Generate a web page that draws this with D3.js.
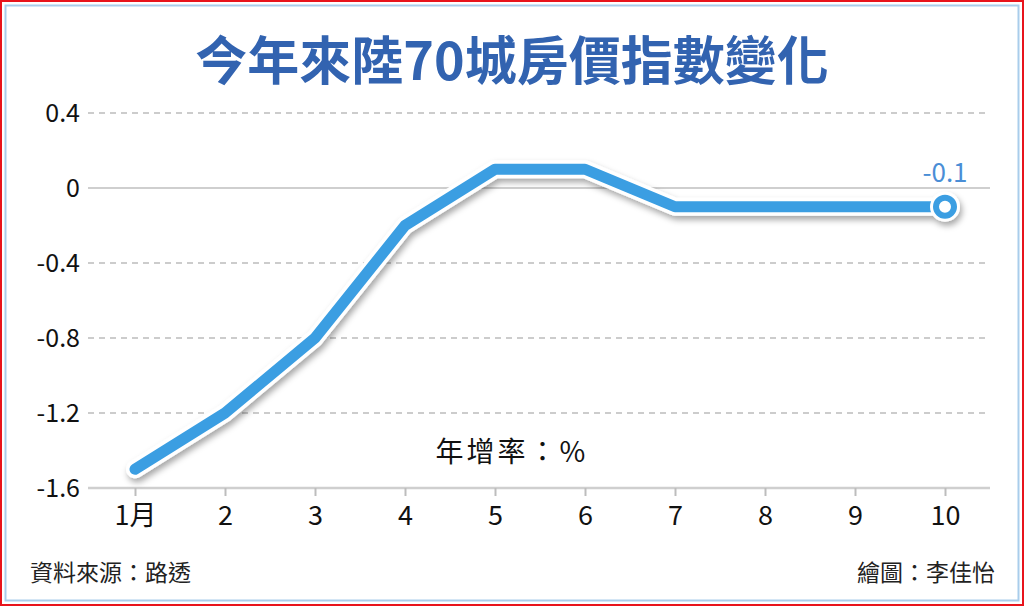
<!DOCTYPE html>
<html>
<head>
<meta charset="utf-8">
<style>
  body { margin: 0; background: #fff; }
  svg text { font-family: "Noto Sans CJK TC", "Noto Sans", sans-serif; }
</style>
</head>
<body>
<div id="chart"></div>
<script src="https://cdn.jsdelivr.net/npm/d3@7/dist/d3.min.js"></script>
<script>
var w = 1024;
var h = 606;

var months = ["1月", "2", "3", "4", "5", "6", "7", "8", "9", "10"];
var values = [-1.5, -1.2, -0.8, -0.2, 0.1, 0.1, -0.1, -0.1, -0.1, -0.1];
var yTicks = [0.4, 0, -0.4, -0.8, -1.2, -1.6];

var svg = d3.select("#chart").append("svg").attr("width", w).attr("height", h);

// shadow under the line
var defs = svg.append("defs");
var f = defs.append("filter").attr("id", "shadow").attr("x", "-10%").attr("y", "-10%").attr("width", "120%").attr("height", "130%");
f.append("feDropShadow").attr("dx", 2).attr("dy", 4).attr("stdDeviation", 3)
     .attr("flood-color", "#000").attr("flood-opacity", 0.35);

// frame
svg.append("rect").attr("x", 1).attr("y", 1).attr("width", w - 2).attr("height", h - 2)
     .attr("fill", "none").attr("stroke", "#e8141c").attr("stroke-width", 2);
svg.append("rect").attr("x", 5.5).attr("y", 5.5).attr("width", w - 11).attr("height", h - 11)
     .attr("fill", "none").attr("stroke", "#a9cdeb").attr("stroke-width", 2);

// title
svg.append("text").text("今年來陸70城房價指數變化")
     .attr("x", 512).attr("y", 80).attr("text-anchor", "middle")
     .attr("font-size", 52).attr("font-weight", 700).attr("fill", "#3263b0");

var x = d3.scalePoint().domain(months).range([135, 945]);
var y = d3.scaleLinear().domain([-1.6, 0.4]).range([488, 113]);

function fmt(d) { return String(d); }

// grid
svg.selectAll("line.grid").data(yTicks.filter(function (d) { return d !== -1.6; }))
     .enter().append("line").attr("class", "grid")
     .attr("x1", 88).attr("x2", 990)
     .attr("y1", function (d) { return y(d); }).attr("y2", function (d) { return y(d); })
     .attr("stroke", function (d) { return d === 0 ? "#cfcfcf" : "#9a9a9a"; })
     .attr("stroke-width", function (d) { return d === 0 ? 2 : 1.2; })
     .attr("stroke-dasharray", function (d) { return d === 0 ? null : "6,5"; });

// y labels
svg.selectAll("text.ylab").data(yTicks).enter().append("text").attr("class", "ylab")
     .text(fmt)
     .attr("x", 80).attr("y", function (d) { return y(d) + 9; })
     .attr("text-anchor", "end").attr("font-size", 25).attr("fill", "#111");

// x axis
var xAxis = d3.axisBottom(x).tickSize(8).tickSizeOuter(0).tickPadding(10);
var gx = svg.append("g").attr("transform", "translate(0," + y(-1.6) + ")").call(xAxis);
gx.select(".domain").remove();
gx.insert("line", ":first-child").attr("x1", 88).attr("x2", 990).attr("y1", 0).attr("y2", 0)
     .attr("stroke", "#cfcfcf").attr("stroke-width", 2.5);
gx.selectAll(".tick line").attr("stroke", "#bdbdbd").attr("stroke-width", 2);
gx.selectAll(".tick text").attr("font-size", 27).attr("fill", "#111")
     .attr("font-family", "\"Noto Sans CJK TC\", \"Noto Sans\", sans-serif");

// unit label
svg.append("text").text("年增率：%").attr("x", 512).attr("y", 462)
     .attr("text-anchor", "middle").attr("font-size", 28).attr("letter-spacing", 3).attr("fill", "#111");

// line
var line = d3.line().x(function (d, i) { return x(months[i]); }).y(function (d) { return y(d); });
var lg = svg.append("g").attr("filter", "url(#shadow)");
lg.append("path").datum(values).attr("d", line).attr("fill", "none")
     .attr("stroke", "#fff").attr("stroke-width", 18)
     .attr("stroke-linejoin", "round").attr("stroke-linecap", "round");
lg.append("path").datum(values).attr("d", line).attr("fill", "none")
     .attr("stroke", "#3a9ee2").attr("stroke-width", 11)
     .attr("stroke-linejoin", "round").attr("stroke-linecap", "round");

// end marker
var last = values.length - 1;
lg.append("circle").attr("cx", x(months[last])).attr("cy", y(values[last])).attr("r", 15).attr("fill", "#fff");
lg.append("circle").attr("cx", x(months[last])).attr("cy", y(values[last])).attr("r", 9)
     .attr("fill", "#fff").attr("stroke", "#3a9ee2").attr("stroke-width", 6);

svg.append("text").text(fmt(values[last]))
     .attr("x", x(months[last])).attr("y", y(values[last]) - 25)
     .attr("text-anchor", "middle").attr("font-size", 26).attr("fill", "#4a8ed6");

// footer
svg.append("text").text("資料來源：路透").attr("x", 30).attr("y", 581)
     .attr("font-size", 23).attr("fill", "#222");
svg.append("text").text("繪圖：李佳怡").attr("x", 995).attr("y", 581)
     .attr("text-anchor", "end").attr("font-size", 23).attr("fill", "#222");
</script>
</body>
</html>
